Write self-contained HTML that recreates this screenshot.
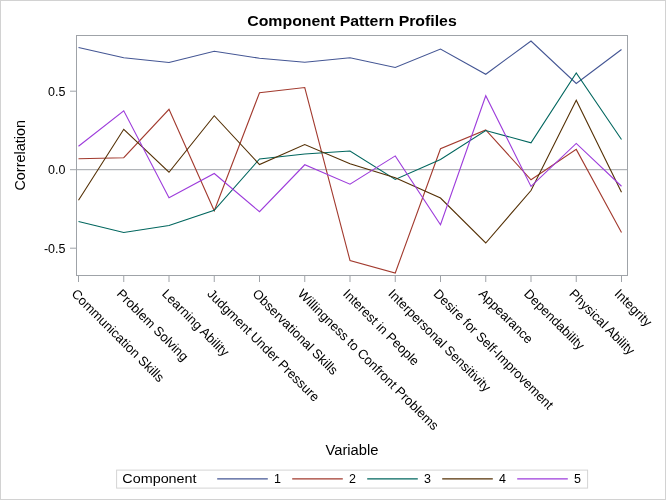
<!DOCTYPE html>
<html lang="en">
<head>
<meta charset="utf-8">
<title>Component Pattern Profiles</title>
<style>
html,body{margin:0;padding:0;background:#fff;}
body{width:666px;height:500px;overflow:hidden;}
svg{display:block;will-change:transform;}
text{font-family:"Liberation Sans",Arial,sans-serif;fill:#000;}
</style>
</head>
<body>
<svg width="666" height="500" viewBox="0 0 666 500">
<rect x="0" y="0" width="666" height="500" fill="#fff"/>
<rect x="0.5" y="0.5" width="665" height="499" fill="none" stroke="#D2D2D2" stroke-width="1"/>
<text x="352" y="26" font-size="15" font-weight="bold" text-anchor="middle" textLength="209.5" lengthAdjust="spacingAndGlyphs">Component Pattern Profiles</text>
<rect x="76.5" y="35.5" width="551" height="240" fill="none" stroke="#9FA3A8" stroke-width="1"/>
<line x1="77" y1="169.7" x2="627" y2="169.7" stroke="#9FA3A8" stroke-width="1"/>
<line x1="70" y1="91.2" x2="76" y2="91.2" stroke="#9FA3A8" stroke-width="1"/>
<text x="65.5" y="95.5" font-size="12.5" text-anchor="end">0.5</text>
<line x1="70" y1="169.7" x2="76" y2="169.7" stroke="#9FA3A8" stroke-width="1"/>
<text x="65.5" y="174.0" font-size="12.5" text-anchor="end">0.0</text>
<line x1="70" y1="248.2" x2="76" y2="248.2" stroke="#9FA3A8" stroke-width="1"/>
<text x="65.5" y="252.5" font-size="12.5" text-anchor="end">-0.5</text>
<line x1="78.5" y1="276" x2="78.5" y2="282" stroke="#9FA3A8" stroke-width="1"/>
<line x1="123.75" y1="276" x2="123.75" y2="282" stroke="#9FA3A8" stroke-width="1"/>
<line x1="169.0" y1="276" x2="169.0" y2="282" stroke="#9FA3A8" stroke-width="1"/>
<line x1="214.25" y1="276" x2="214.25" y2="282" stroke="#9FA3A8" stroke-width="1"/>
<line x1="259.5" y1="276" x2="259.5" y2="282" stroke="#9FA3A8" stroke-width="1"/>
<line x1="304.75" y1="276" x2="304.75" y2="282" stroke="#9FA3A8" stroke-width="1"/>
<line x1="350.0" y1="276" x2="350.0" y2="282" stroke="#9FA3A8" stroke-width="1"/>
<line x1="395.25" y1="276" x2="395.25" y2="282" stroke="#9FA3A8" stroke-width="1"/>
<line x1="440.5" y1="276" x2="440.5" y2="282" stroke="#9FA3A8" stroke-width="1"/>
<line x1="485.75" y1="276" x2="485.75" y2="282" stroke="#9FA3A8" stroke-width="1"/>
<line x1="531.0" y1="276" x2="531.0" y2="282" stroke="#9FA3A8" stroke-width="1"/>
<line x1="576.25" y1="276" x2="576.25" y2="282" stroke="#9FA3A8" stroke-width="1"/>
<line x1="621.5" y1="276" x2="621.5" y2="282" stroke="#9FA3A8" stroke-width="1"/>
<text transform="translate(70.70,294.6) rotate(45)" font-size="13.05">Communication Skills</text>
<text transform="translate(115.95,294.6) rotate(45)" font-size="13.05">Problem Solving</text>
<text transform="translate(161.20,294.6) rotate(45)" font-size="13.05">Learning Ability</text>
<text transform="translate(206.45,294.6) rotate(45)" font-size="13.05">Judgment Under Pressure</text>
<text transform="translate(251.70,294.6) rotate(45)" font-size="13.05">Observational Skills</text>
<text transform="translate(296.95,294.6) rotate(45)" font-size="13.05">Willingness to Confront Problems</text>
<text transform="translate(342.20,294.6) rotate(45)" font-size="13.05">Interest in People</text>
<text transform="translate(387.45,294.6) rotate(45)" font-size="13.05">Interpersonal Sensitivity</text>
<text transform="translate(432.70,294.6) rotate(45)" font-size="13.05">Desire for Self-Improvement</text>
<text transform="translate(477.95,294.6) rotate(45)" font-size="13.05">Appearance</text>
<text transform="translate(523.20,294.6) rotate(45)" font-size="13.05">Dependability</text>
<text transform="translate(568.45,294.6) rotate(45)" font-size="13.05">Physical Ability</text>
<text transform="translate(613.70,294.6) rotate(45)" font-size="13.05">Integrity</text>
<polyline points="78.50,47.50 123.75,57.75 169.00,62.50 214.25,51.25 259.50,58.25 304.75,62.25 350.00,57.75 395.25,67.50 440.50,49.00 485.75,74.25 531.00,41.00 576.25,83.50 621.50,49.50" fill="none" stroke="#445694" stroke-width="1.1" stroke-linejoin="miter"/>
<polyline points="78.50,158.75 123.75,157.75 169.00,109.25 214.25,210.75 259.50,92.75 304.75,87.50 350.00,260.50 395.25,273.00 440.50,148.75 485.75,130.00 531.00,179.75 576.25,149.40 621.50,232.50" fill="none" stroke="#A23A2E" stroke-width="1.1" stroke-linejoin="miter"/>
<polyline points="78.50,221.50 123.75,232.50 169.00,225.50 214.25,210.25 259.50,159.00 304.75,154.00 350.00,151.00 395.25,179.50 440.50,159.50 485.75,130.50 531.00,142.75 576.25,73.00 621.50,139.50" fill="none" stroke="#01665E" stroke-width="1.1" stroke-linejoin="miter"/>
<polyline points="78.50,200.25 123.75,129.25 169.00,172.25 214.25,115.75 259.50,164.50 304.75,144.50 350.00,163.75 395.25,177.75 440.50,198.00 485.75,243.00 531.00,190.50 576.25,100.25 621.50,192.25" fill="none" stroke="#543005" stroke-width="1.1" stroke-linejoin="miter"/>
<polyline points="78.50,146.20 123.75,110.75 169.00,197.75 214.25,173.50 259.50,211.75 304.75,164.75 350.00,184.25 395.25,155.90 440.50,224.75 485.75,95.75 531.00,186.40 576.25,143.40 621.50,186.25" fill="none" stroke="#9D3CDB" stroke-width="1.1" stroke-linejoin="miter"/>
<text transform="translate(25.3,155.3) rotate(-90)" font-size="14" text-anchor="middle" textLength="70.5" lengthAdjust="spacingAndGlyphs">Correlation</text>
<text x="352" y="454.9" font-size="14" text-anchor="middle" textLength="53" lengthAdjust="spacingAndGlyphs">Variable</text>
<rect x="116.6" y="470.1" width="471" height="18" fill="#fff" stroke="#D4D4D4" stroke-width="1"/>
<text x="122.3" y="483.4" font-size="13.5" textLength="74.3" lengthAdjust="spacingAndGlyphs">Component</text>
<line x1="217.2" y1="478.8" x2="267.8" y2="478.8" stroke="#445694" stroke-width="1.3"/>
<text x="274.0" y="483.1" font-size="12.5">1</text>
<line x1="292.2" y1="478.8" x2="342.8" y2="478.8" stroke="#A23A2E" stroke-width="1.3"/>
<text x="349.0" y="483.1" font-size="12.5">2</text>
<line x1="367.2" y1="478.8" x2="417.8" y2="478.8" stroke="#01665E" stroke-width="1.3"/>
<text x="424.0" y="483.1" font-size="12.5">3</text>
<line x1="442.2" y1="478.8" x2="492.8" y2="478.8" stroke="#543005" stroke-width="1.3"/>
<text x="499.0" y="483.1" font-size="12.5">4</text>
<line x1="517.2" y1="478.8" x2="567.8000000000001" y2="478.8" stroke="#9D3CDB" stroke-width="1.3"/>
<text x="574.0" y="483.1" font-size="12.5">5</text>
</svg>
</body>
</html>
